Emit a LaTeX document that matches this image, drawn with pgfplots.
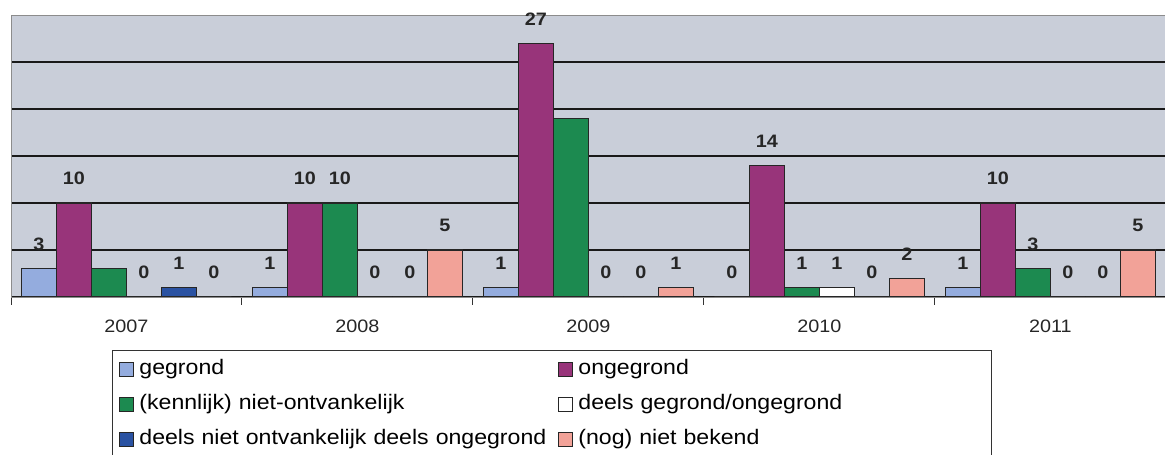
\documentclass[border=0pt]{standalone}
\usepackage{fontspec}
\setmainfont{Liberation Sans}[FakeStretch=1.1]
\usepackage{pgfplots}
\usepackage{pgfplotstable}
\pgfplotsset{compat=1.18}
\definecolor{cA}{RGB}{148,172,222}
\definecolor{cB}{RGB}{152,52,122}
\definecolor{cC}{RGB}{28,138,80}
\definecolor{cD}{RGB}{255,255,255}
\definecolor{cE}{RGB}{42,82,162}
\definecolor{cF}{RGB}{242,162,152}
\definecolor{bgc}{RGB}{201,206,217}

\pgfplotstableread{
x y lab
0 3 3
1 1 1
2 1 1
3 0 0
4 1 1
}\tA
\pgfplotstableread{
x y lab
0 10 10
1 10 10
2 27 27
3 14 14
4 10 10
}\tB
\pgfplotstableread{
x y lab
0 3 x
1 10 10
2 19 x
3 1 1
4 3 3
}\tC
\pgfplotstableread{
x y lab
0 0 0
1 0 0
2 0 0
3 1 1
4 0 0
}\tD
\pgfplotstableread{
x y lab
0 1 1
1 0 0
2 0 0
3 0 0
4 0 0
}\tE
\pgfplotstableread{
x y lab
0 0 0
1 5 5
2 1 1
3 2 2
4 5 5
}\tF

\begin{document}
\begin{tikzpicture}
\path[use as bounding box] (0,0) rectangle (1165bp,455bp);
\begin{axis}[
  at={(11bp,158bp)}, anchor=south west,
  scale only axis, width=1155bp, height=282bp,
  xmin=-0.5, xmax=4.5, ymin=0, ymax=30,
  ybar=0pt, bar width=35bp,
  axis background/.style={fill=bgc},
  axis line style={draw=black!45, line width=1bp},
  ytick={0,5,...,25}, yticklabels={}, ymajorgrids,
  major grid style={black!90, line width=2bp},
  ytick style={draw=none},
  xtick={0,...,4}, xticklabels={2007,2008,2009,2010,2011},
  minor xtick={-0.5,0.5,1.5,2.5,3.5},
  xtick pos=lower, tick align=outside,
  major tick length=0pt, minor tick length=8bp,
  minor tick style={black!80, line width=1bp},
  xticklabel style={font=\fontsize{18bp}{20bp}\selectfont, inner sep=0pt, yshift=-23bp, text=black!85},
  point meta=explicit symbolic,
  nodes near coords={\ifnum\strcmp{\pgfplotspointmeta}{x}=0 \else\pgfplotspointmeta\fi},
  every node near coord/.append style={font=\fontsize{18bp}{20bp}\selectfont\bfseries, inner sep=0pt, anchor=south, yshift=17.5bp, text=black!85},
  legend columns=2,
  legend style={at={(0.0874,-0.188)}, anchor=north west,
    draw=black!80, line width=1bp, fill=white,
    inner xsep=7bp, inner ysep=9bp, row sep=15bp,
    font=\fontsize{21bp}{24bp}\selectfont,
    nodes={inner sep=0bp},
    /tikz/column 1/.style={column sep=5bp},
    /tikz/column 3/.style={column sep=5bp},
    /tikz/column 2/.style={column sep=5bp, nodes={text width=414bp, text height=15bp, text depth=5bp}},
    /tikz/column 4/.style={nodes={text width=406bp, text height=15bp, text depth=5bp}},
  },
  legend cell align=left,
  myleg/.style={legend image code/.code={\draw[##1, draw=black!85, line width=1bp] (0bp,-7bp) rectangle (14bp,7bp);}},
]
\addplot[fill=cA, draw=black!85, line width=1.2bp, myleg] table[x=x, y=y, meta=lab] {\tA};
\addplot[fill=cB, draw=black!85, line width=1.2bp, myleg] table[x=x, y=y, meta=lab] {\tB};
\addplot[fill=cC, draw=black!85, line width=1.2bp, myleg] table[x=x, y=y, meta=lab] {\tC};
\addplot[fill=cD, draw=black!85, line width=1.2bp, myleg] table[x=x, y=y, meta=lab] {\tD};
\addplot[fill=cE, draw=black!85, line width=1.2bp, myleg] table[x=x, y=y, meta=lab] {\tE};
\addplot[fill=cF, draw=black!85, line width=1.2bp, myleg] table[x=x, y=y, meta=lab] {\tF};
\legend{gegrond, ongegrond, (kennlijk) niet-ontvankelijk, deels gegrond/ongegrond, deels niet ontvankelijk deels ongegrond, (nog) niet bekend}
\end{axis}
\end{tikzpicture}
\end{document}
